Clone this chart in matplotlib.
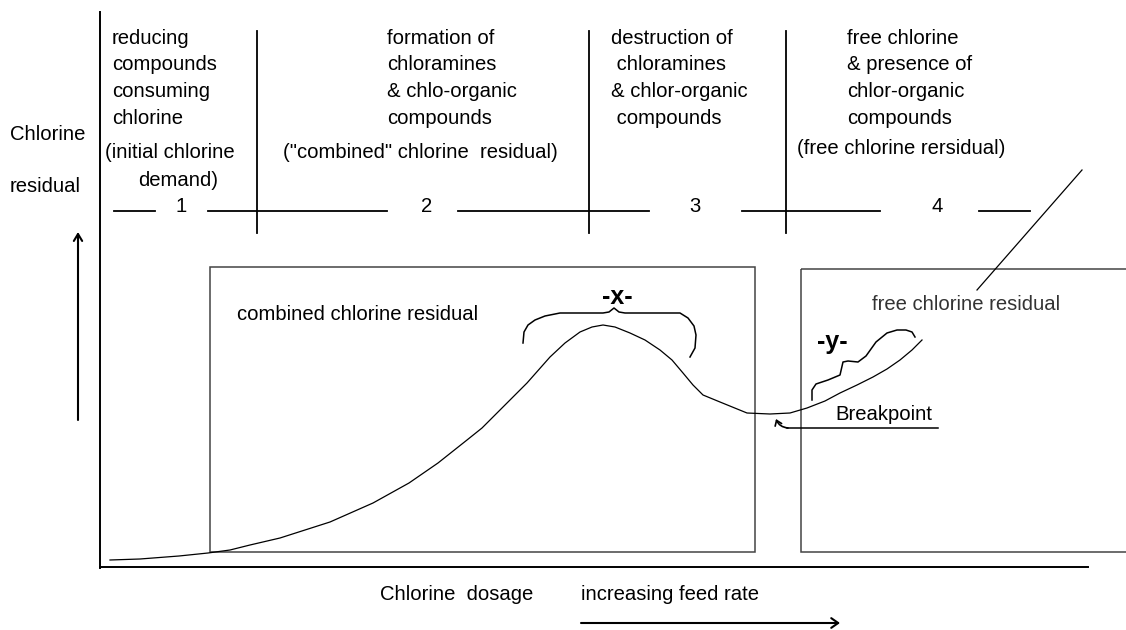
import matplotlib.pyplot as plt
from matplotlib.patches import Rectangle, FancyArrowPatch

plt.rcParams['font.family'] = ['Liberation Sans', 'DejaVu Sans']

# breakpoint chlorination curve (pixel coords, y down)
curve_x = [110, 140, 179, 208, 230, 250, 280, 330, 373, 409, 438, 467, 482, 505, 527,
           550, 565, 580, 592, 603, 615, 630, 645, 660, 672, 683, 693, 703, 720, 747,
           770, 790, 807, 825, 840, 857, 873, 887, 900, 912, 922]
curve_y = [560, 559, 556, 553, 550, 545, 538, 522, 503, 483, 463, 440, 428, 405, 383,
           357, 343, 332, 327, 325, 327, 333, 340, 350, 360, 373, 385, 395, 402, 413,
           414, 413, 408, 401, 393, 385, 377, 369, 360, 350, 340]

# braces
brace_x_x = [523, 524, 528, 535, 545, 560, 603, 609, 614, 619, 625, 680, 688, 694, 696, 695, 690]
brace_x_y = [343, 332, 325, 320, 316, 313, 313, 312, 308, 312, 313, 313, 318, 326, 335, 348, 357]
brace_y_x = [812, 812, 816, 828, 840, 843, 848, 858, 866, 876, 887, 897, 906, 912, 915]
brace_y_y = [400, 390, 384, 380, 375, 362, 361, 362, 356, 342, 333, 330, 330, 332, 337]

# zone headers
zone_text = [
    (112, ["reducing", "compounds", "consuming", "chlorine"]),
    (387, ["formation of", "chloramines", "& chlo-organic", "compounds"]),
    (611, ["destruction of", " chloramines", "& chlor-organic", " compounds"]),
    (847, ["free chlorine", "& presence of", "chlor-organic", "compounds"]),
]
zone_notes = [(105, 153, "(initial chlorine"), (138, 180, "demand)"),
              (283, 153, '("combined" chlorine  residual)'),
              (797, 148, "(free chlorine rersidual)")]
zone_nums = [(181, "1"), (427, "2"), (695, "3"), (937, "4")]
dividers = [257, 589, 786]
header_segs = [(114, 155), (208, 387), (458, 649), (742, 880), (979, 1030)]

fig = plt.figure(figsize=(11.26, 6.30), dpi=100)
ax = fig.add_axes([0, 0, 1, 1])
ax.set_xlim(0, 1126)
ax.set_ylim(630, 0)
ax.axis('off')

fs = 14.6
ink = 'black'

# axes of the sketch
ax.plot([100, 100], [12, 568], color=ink, lw=1.4)
ax.plot([100, 1088], [567, 567], color=ink, lw=1.4)

# header
for x in dividers:
    ax.plot([x, x], [31, 233], color=ink, lw=1.3)
for x0, x1 in header_segs:
    ax.plot([x0, x1], [211, 211], color=ink, lw=1.3)
for x, s in zone_nums:
    ax.text(x, 206, s, fontsize=fs, ha='center', va='center', color=ink)
for x, lines in zone_text:
    for i, s in enumerate(lines):
        ax.text(x, 38 + 26.7 * i, s, fontsize=fs, ha='left', va='center', color=ink)
for x, y, s in zone_notes:
    ax.text(x, y, s, fontsize=fs, ha='left', va='center', color=ink)

# y label and arrow
ax.text(10, 134, "Chlorine", fontsize=fs, ha='left', va='center', color=ink)
ax.text(10, 186, "residual", fontsize=fs, ha='left', va='center', color=ink)
ax.annotate("", xy=(78, 232), xytext=(78, 420),
            arrowprops=dict(arrowstyle='->,head_length=0.5,head_width=0.3', color=ink, lw=1.5,
                            shrinkA=0, shrinkB=0))

# boxes
ax.add_patch(Rectangle((210, 267), 545, 285, fill=False, ec='#444444', lw=1.1))
ax.add_patch(Rectangle((801, 269), 340, 283, fill=False, ec='#444444', lw=1.1))
ax.text(237, 315, "combined chlorine residual", fontsize=fs, ha='left', va='center', color=ink)
ax.text(872, 305, "free chlorine residual", fontsize=fs, ha='left', va='center', color='#333333')

# curve
ax.plot(curve_x, curve_y, color=ink, lw=0.9)
ax.plot([977, 1082], [290, 170], color=ink, lw=0.9)

# braces
ax.plot(brace_x_x, brace_x_y, color=ink, lw=1.1)
ax.plot(brace_y_x, brace_y_y, color=ink, lw=1.1)
ax.text(617, 297, "-x-", fontsize=18, fontweight='bold', ha='center', va='center', color=ink)
ax.text(832, 342, "-y-", fontsize=18, fontweight='bold', ha='center', va='center', color=ink)

# breakpoint label
ax.text(835, 415, "Breakpoint", fontsize=fs, ha='left', va='center', color=ink)
ax.plot([787, 938], [428, 428], color=ink, lw=1.1)
ax.annotate("", xy=(776, 419), xytext=(788, 428),
            arrowprops=dict(arrowstyle='->,head_length=0.35,head_width=0.25', color=ink, lw=1.2,
                            shrinkA=0, shrinkB=0, connectionstyle='arc3,rad=-0.3'))

# x label and arrow
ax.text(380, 595, "Chlorine  dosage", fontsize=fs, ha='left', va='center', color=ink)
ax.text(581, 595, "increasing feed rate", fontsize=fs, ha='left', va='center', color=ink)
ax.annotate("", xy=(840, 623), xytext=(581, 623),
            arrowprops=dict(arrowstyle='->,head_length=0.5,head_width=0.35', color=ink, lw=1.5,
                            shrinkA=0, shrinkB=0))

fig.savefig("out.png", dpi=100)
